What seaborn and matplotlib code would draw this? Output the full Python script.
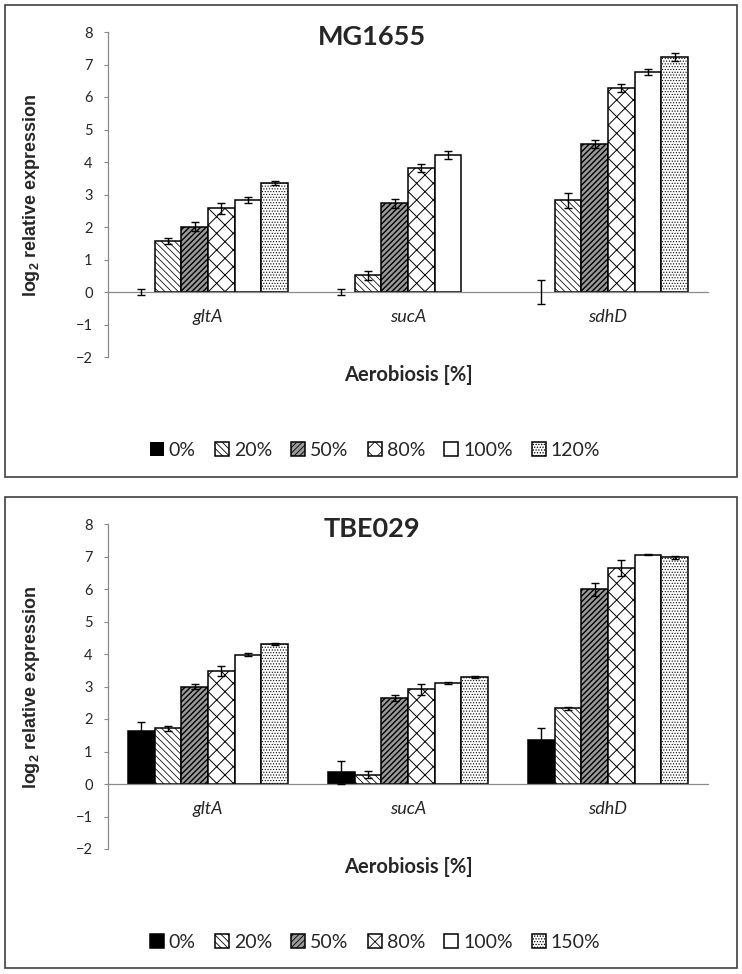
import numpy as np
import pandas as pd
import seaborn as sns
import matplotlib.pyplot as plt
from matplotlib.patches import Rectangle

genes = ['gltA', 'sucA', 'sdhD']

# MG1655 panel
mg_levels = ['0%', '20%', '50%', '80%', '100%', '120%']
mg_gltA = [0.0, 1.57, 2.01, 2.57, 2.83, 3.36]
mg_gltA_err = [0.10, 0.10, 0.14, 0.18, 0.09, 0.06]
mg_sucA = [0.0, 0.51, 2.73, 3.81, 4.22, np.nan]
mg_sucA_err = [0.09, 0.13, 0.14, 0.12, 0.12, np.nan]
mg_sdhD = [0.0, 2.82, 4.56, 6.27, 6.77, 7.22]
mg_sdhD_err = [0.36, 0.23, 0.12, 0.13, 0.09, 0.12]

# TBE029 panel
tbe_levels = ['0%', '20%', '50%', '80%', '100%', '150%']
tbe_gltA = [1.63, 1.71, 3.00, 3.47, 3.98, 4.31]
tbe_gltA_err = [0.28, 0.08, 0.09, 0.15, 0.05, 0.03]
tbe_sucA = [0.36, 0.29, 2.64, 2.92, 3.11, 3.28]
tbe_sucA_err = [0.36, 0.11, 0.10, 0.17, 0.03, 0.03]
tbe_sdhD = [1.34, 2.33, 5.99, 6.64, 7.06, 6.97]
tbe_sdhD_err = [0.38, 0.05, 0.20, 0.25, 0.02, 0.04]

sns.set_style('white')
plt.rcParams['font.family'] = ['Lato', 'DejaVu Sans']
plt.rcParams['mathtext.fontset'] = 'custom'
plt.rcParams['mathtext.bf'] = 'Liberation Sans:bold'
plt.rcParams['hatch.linewidth'] = 0.6

# per-level style: face colour, hatch, hatch linewidth
styles = [('black', '', 0.6), ('white', '\\\\\\\\\\', 0.55), ('#9a9a9a', '//////', 1.0),
          ('white', 'xx', 0.7), ('white', '', 0.6), ('white', '......', 0.5)]
grey = '#8a8a8a'


def make_df(levels, vals, errs):
    rows = []
    for g, v, e in zip(genes, vals, errs):
        for lv, y, s in zip(levels, v, e):
            rows.append({'gene': g, 'level': lv, 'value': y, 'err': s})
    return pd.DataFrame(rows).dropna()


def panel(fig, rect, top_px, levels, df, title):
    ax = fig.add_axes(rect)
    pal = {lv: st[0] for lv, st in zip(levels, styles)}
    sns.barplot(data=df, x='gene', y='value', hue='level', order=genes, hue_order=levels,
                palette=pal, errorbar=None, width=0.8, gap=0, saturation=1,
                edgecolor='black', linewidth=1.1, legend=False, ax=ax)
    xs, ys, es = [], [], []
    for i, cont in enumerate(ax.containers):
        face, hatch, hlw = styles[i]
        for bar in cont:
            bar.set_hatch(hatch)
            if hasattr(bar, 'set_hatch_linewidth'):
                bar.set_hatch_linewidth(hlw)
            if bar.get_height() == 0:
                bar.set_linewidth(0)
            xc = bar.get_x() + bar.get_width() / 2
            g = genes[int(round(xc))]
            row = df[(df['gene'] == g) & (df['level'] == levels[i])].iloc[0]
            xs.append(xc)
            ys.append(row['value'])
            es.append(row['err'])
    ax.errorbar(xs, ys, yerr=es, fmt='none', ecolor='black', elinewidth=1.0,
                capsize=2.6, capthick=1.0, zorder=4)

    # spines first: moving a spine resets the ticks
    for s in ['top', 'right']:
        ax.spines[s].set_visible(False)
    ax.spines['bottom'].set_position(('data', 0))
    ax.spines['bottom'].set_color(grey)
    ax.spines['left'].set_color(grey)
    ax.spines['bottom'].set_linewidth(0.9)
    ax.spines['left'].set_linewidth(0.9)

    ax.set_xlim(-0.5, 2.5)
    ax.set_ylim(-2, 8)
    ax.set_yticks(range(-2, 9))
    ax.set_xticks(range(3))
    ax.set_xticks([0.5, 1.5, 2.5], minor=True)
    ax.set_xticklabels(genes)
    ax.tick_params(axis='x', which='major', length=0, pad=12, labelsize=13)
    ax.tick_params(axis='x', which='minor', length=3, color=grey, width=0.8, direction='out')
    ax.tick_params(axis='y', length=3, color=grey, width=0.8, labelsize=10.5, pad=8, left=True)
    for lab in ax.get_xticklabels():
        lab.set_fontstyle('italic')
    ax.set_xlabel('')
    ax.set_ylabel('')

    H = 974.0
    fig.text(372 / 742, 1 - (top_px + 37) / H, title, ha='center', va='center',
             fontsize=19.5, fontweight='bold')
    fig.text(408 / 742, 1 - (top_px + 375) / H, 'Aerobiosis [%]', ha='center', va='center',
             fontsize=14.5, fontweight='bold')
    fig.text(32 / 742, 1 - (top_px + 195) / H, r'log$_\mathbf{2}$ relative expression',
             rotation=90, ha='center', va='center', fontsize=13, fontweight='bold',
             family='Liberation Sans')
    fig.legend(handles=ax.containers, labels=levels, loc='center', ncol=6,
               bbox_to_anchor=(375 / 742, 1 - (top_px + 450) / H), frameon=False,
               fontsize=14, handlelength=0.72, handleheight=0.72, handletextpad=0.26,
               columnspacing=0.98, borderaxespad=0)
    return ax


fig = plt.figure(figsize=(7.42, 9.74), dpi=100)

df_mg = make_df(mg_levels, [mg_gltA, mg_sucA, mg_sdhD], [mg_gltA_err, mg_sucA_err, mg_sdhD_err])
df_tbe = make_df(tbe_levels, [tbe_gltA, tbe_sucA, tbe_sdhD], [tbe_gltA_err, tbe_sucA_err, tbe_sdhD_err])

panel(fig, [108 / 742, 1 - 357 / 974, 600 / 742, 325 / 974], 0, mg_levels, df_mg, 'MG1655')
panel(fig, [108 / 742, 1 - 849 / 974, 600 / 742, 325 / 974], 492, tbe_levels, df_tbe, 'TBE029')

# outer frames around each panel
for y0, y1 in [(5, 477), (497, 968)]:
    fig.add_artist(Rectangle((5 / 742, 1 - y1 / 974), 732 / 742, (y1 - y0) / 974,
                             transform=fig.transFigure, fill=False, edgecolor='#404040',
                             linewidth=1.2))

plt.savefig('out.png', dpi=100)
